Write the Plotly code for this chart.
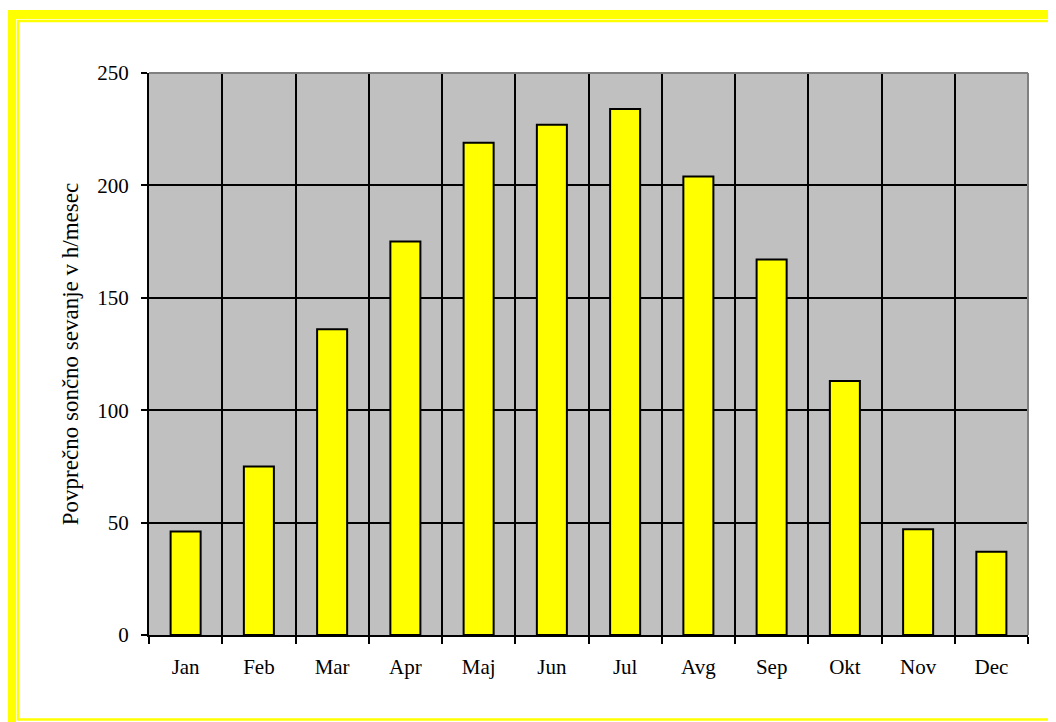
import plotly.graph_objects as go

months = ["Jan", "Feb", "Mar", "Apr", "Maj", "Jun", "Jul", "Avg", "Sep", "Okt", "Nov", "Dec"]
hours = [46, 75, 136, 175, 219, 227, 234, 204, 167, 113, 47, 37]
y_ticks = [0, 50, 100, 150, 200, 250]
y_title = "Povprečno sončno sevanje v h/mesec"

W, H = 1056, 722
OFF = 8                            # page body margin
L, R, T, B = 149, 1028, 73, 635    # plot area, page pixels


def px(x):
    return (x - L) / (R - L)


def py(y):
    return (B - y) / (B - T)


fig = go.Figure()
fig.add_trace(go.Bar(
    x=months, y=hours,
    marker=dict(color="#ffff00", line=dict(color="black", width=2)),
))

shapes = [
    # grey frame at top / right of plot area
    dict(type="line", xref="paper", yref="paper", x0=0, x1=1, y0=1, y1=1,
         line=dict(color="#808080", width=2)),
    dict(type="line", xref="paper", yref="paper", x0=1, x1=1, y0=0, y1=1,
         line=dict(color="#808080", width=2)),
    # yellow border round the chart
    dict(type="rect", xref="paper", yref="paper", layer="below",
         x0=px(11.5), x1=px(1075), y0=py(14.5), y1=py(726.5),
         line=dict(color="#ffff00", width=9)),
    dict(type="rect", xref="paper", yref="paper", layer="below",
         x0=px(18), x1=px(1070), y0=py(21), y1=py(719.5),
         line=dict(color="#ffff00", width=2.5)),
]

fig.update_layout(
    width=W, height=H,
    margin=dict(l=L - OFF, r=W - R + OFF, t=T - OFF, b=H - B + OFF),
    paper_bgcolor="white",
    plot_bgcolor="#c0c0c0",
    bargap=0.59,
    showlegend=False,
    font=dict(family="Liberation Serif, Times New Roman, serif", size=21, color="black"),
    shapes=shapes,
)
fig.update_xaxes(
    tickson="boundaries", ticks="outside", ticklen=7, tickwidth=2, tickcolor="black",
    showgrid=True, gridcolor="black", gridwidth=2,
    showline=True, linecolor="black", linewidth=2,
    ticklabelstandoff=12,
)
fig.update_yaxes(
    range=[0, 250], tickvals=y_ticks, ticks="outside", ticklen=6, tickwidth=2, tickcolor="black",
    showgrid=True, gridcolor="black", gridwidth=2, zeroline=False,
    showline=True, linecolor="black", linewidth=2,
    ticklabelstandoff=8,
    title=dict(text=y_title, standoff=12, font=dict(size=23)),
)

fig.write_html("out.html")
